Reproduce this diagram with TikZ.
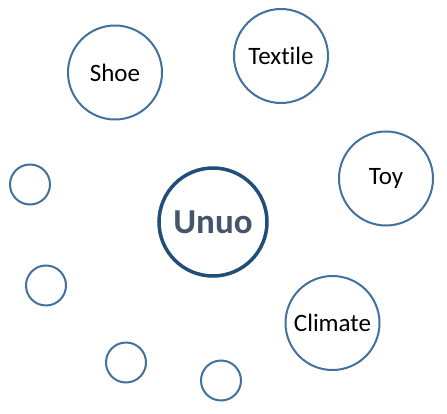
\documentclass[tikz,border=0pt]{standalone}
\usepackage{fontspec}
\setmainfont[RawFeature=-liga]{Carlito}
\definecolor{ringblue}{HTML}{41719C}
\definecolor{hubblue}{HTML}{1F4E79}
\definecolor{hubtext}{HTML}{44546A}
\begin{document}
\begin{tikzpicture}[x=1pt,y=-1pt,
    topic/.style={circle,draw=ringblue,line width=2pt,minimum size=94pt,inner sep=0pt,
      font=\fontsize{25}{30}\selectfont},
    spare/.style={circle,draw=ringblue,line width=2pt,minimum size=40pt,inner sep=0pt},
    hub/.style={circle,draw=hubblue,line width=3.5pt,minimum size=108pt,inner sep=0pt,
      text=hubtext,font=\fontsize{35}{40}\selectfont\bfseries}]
  \useasboundingbox (0,0) rectangle (447,414);
  \draw
    (213,222) node[hub] (unuo){Unuo}
    (115,72.5) node[topic] (shoe){Shoe}
    (281,56) node[topic] (textile){Textile}
    (386,178.5) node[topic] (toy){Toy}
    (332.5,323) node[topic] (climate){Climate}
    (30,184.5) node[spare] (s1){}
    (46,285.5) node[spare] (s2){}
    (126,362.5) node[spare] (s3){}
    (221,380.5) node[spare] (s4){};
\end{tikzpicture}
\end{document}
